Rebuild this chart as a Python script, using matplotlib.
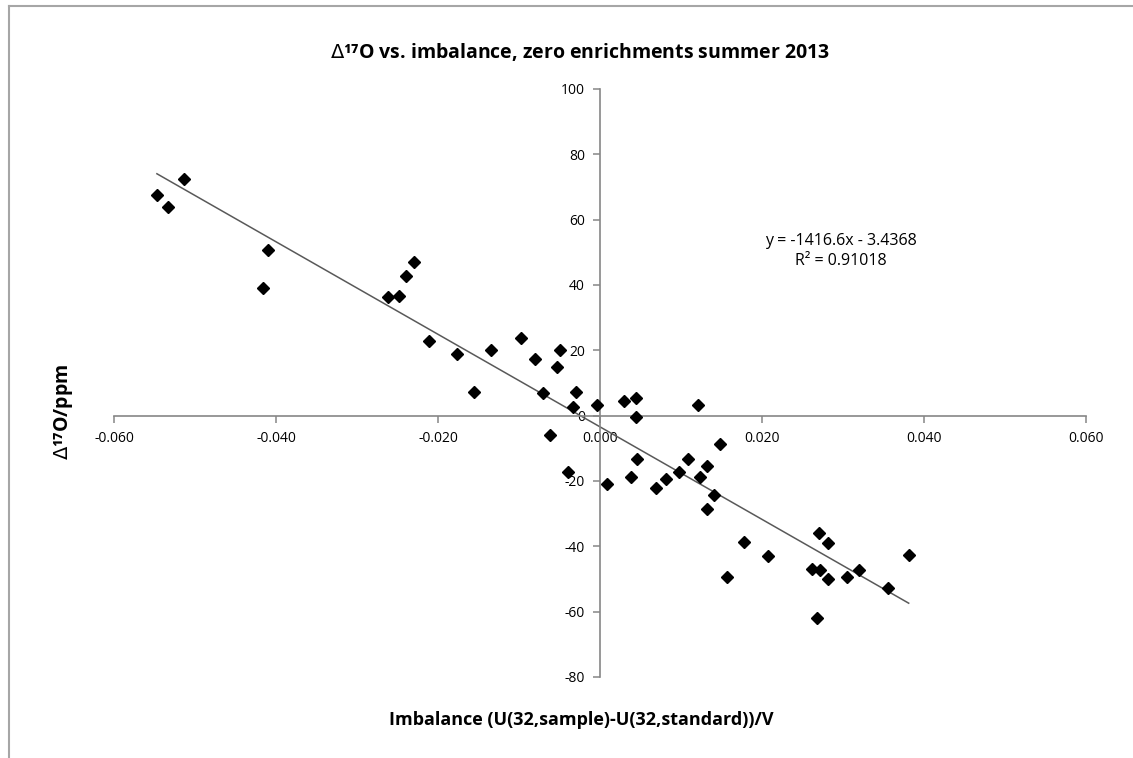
import matplotlib.pyplot as plt
import numpy as np
from matplotlib.lines import Line2D

plt.rcParams['font.family'] = ['Open Sans', 'DejaVu Sans']

# imbalance (V) and Δ17O (ppm) of the zero enrichment runs
imbalance = [-0.0547, -0.0533, -0.0513, -0.0410, -0.0416, -0.0262, -0.0248, -0.0239, -0.0230,
             -0.0211, -0.0176, -0.0156, -0.0135, -0.0097, -0.0080, -0.0071, -0.0062, -0.0053,
             -0.0050, -0.0030, -0.0033, -0.0039, -0.0004, 0.0009, 0.0029, 0.0044, 0.0044,
             0.0046, 0.0038, 0.0069, 0.0081, 0.0098, 0.0109, 0.0121, 0.0124, 0.0132, 0.0132,
             0.0141, 0.0148, 0.0178, 0.0207, 0.0157, 0.0270, 0.0281, 0.0262, 0.0272, 0.0281,
             0.0305, 0.0320, 0.0355, 0.0381, 0.0268]
d17o = [67.5, 63.8, 72.4, 50.7, 39.0, 36.2, 36.7, 42.6, 47.0,
        22.7, 18.9, 7.2, 20.1, 23.7, 17.3, 7.0, -5.9, 15.0,
        20.1, 7.3, 2.5, -17.1, 3.2, -21.0, 4.4, 5.3, -0.5,
        -13.4, -18.9, -22.2, -19.5, -17.4, -13.4, 3.2, -18.9, -15.4, -28.7,
        -24.3, -8.7, -38.8, -42.9, -49.3, -36.0, -38.9, -47.0, -47.4, -50.1,
        -49.5, -47.4, -52.7, -42.6, -62.0]

# linear trend line coefficients
slope = -1416.6
intercept = -3.4368
r_squared = 0.91018

xticks = [-0.06, -0.04, -0.02, 0.0, 0.02, 0.04, 0.06]
yticks = [-80, -60, -40, -20, 0, 20, 40, 60, 80, 100]

fig = plt.figure(figsize=(11.33, 7.58), dpi=100)
ax = fig.add_axes([0.1006, 0.1069, 0.858, 0.7757])

axis_grey = '#868686'

x = np.array(imbalance)
y = np.array(d17o)
xfit = np.array([x.min(), x.max()])
ax.plot(xfit, slope * xfit + intercept, color='#595959', lw=1.1, zorder=2)
ax.plot(x, y, linestyle='none', marker='D', markersize=6.5, color='black', zorder=3)

ax.set_xlim(-0.06, 0.06)
ax.set_ylim(-80, 100)
ax.set_xticks(xticks)
ax.set_yticks(yticks)
ax.set_xticklabels([f'{v:.3f}' for v in xticks])
ax.set_yticklabels([str(v) for v in yticks])

# axes cross at the origin
ax.spines['left'].set_position(('data', 0))
ax.spines['bottom'].set_position(('data', 0))
ax.spines['right'].set_visible(False)
ax.spines['top'].set_visible(False)
for s in ('left', 'bottom'):
    ax.spines[s].set_color(axis_grey)
    ax.spines[s].set_linewidth(1.2)
ax.tick_params(axis='both', direction='out', length=5, width=1.1, color=axis_grey,
               labelsize=10, labelcolor='black', pad=6)

# trend line equation
ax.text(0.0297, 50.4, f'y = {slope}x - {abs(intercept)}\nR² = {r_squared}',
        ha='center', va='center', fontsize=11.5, linespacing=1.3)

fig.text(0.512, 0.931, r'$\mathit{\Delta}$' + '¹⁷O vs. imbalance, zero enrichments summer 2013',
         ha='center', va='center', fontsize=14, fontweight='bold')
fig.text(0.513, 0.05, 'Imbalance (U(32,sample)-U(32,standard))/V',
         ha='center', va='center', fontsize=13, fontweight='bold')
fig.text(0.056, 0.456, r'$\mathit{\Delta}$' + '¹⁷O/ppm', rotation=90,
         ha='center', va='center', fontsize=14, fontweight='bold')

# chart frame
frame_c = '#a6a6a6'
fig.add_artist(Line2D([9 / 1133, 1], [1 - 6 / 758, 1 - 6 / 758], transform=fig.transFigure,
                      color=frame_c, lw=1.5))
fig.add_artist(Line2D([9 / 1133, 9 / 1133], [0, 1 - 6 / 758], transform=fig.transFigure,
                      color=frame_c, lw=1.5))

fig.savefig('out.png', dpi=100)
